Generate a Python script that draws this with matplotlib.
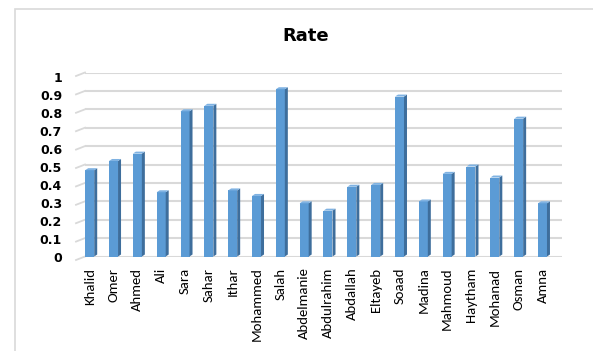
import matplotlib
matplotlib.use("Agg")
import matplotlib.pyplot as plt
import matplotlib.transforms as mtrans
from matplotlib.patches import Polygon, Rectangle
import numpy as np

names = ["Khalid", "Omer", "Ahmed", "Ali", "Sara", "Sahar", "Ithar", "Mohammed",
         "Salah", "Abdelmanie", "Abdulrahim", "Abdallah", "Eltayeb", "Soaad",
         "Madina", "Mahmoud", "Haytham", "Mohanad", "Osman", "Amna"]
rates = [0.48, 0.53, 0.57, 0.36, 0.80, 0.83, 0.37, 0.34, 0.92, 0.30,
         0.26, 0.39, 0.40, 0.88, 0.31, 0.46, 0.50, 0.44, 0.76, 0.30]
yticks = [0, 0.1, 0.2, 0.3, 0.4, 0.5, 0.6, 0.7, 0.8, 0.9, 1]
ytick_labels = ["0", "0.1", "0.2", "0.3", "0.4", "0.5", "0.6", "0.7", "0.8", "0.9", "1"]
title = "Rate"

W, H = 593, 351
fig = plt.figure(figsize=(W / 100, H / 100), dpi=100)
fig.patch.set_facecolor("white")

# chart border (light gray), open at right/bottom like the crop
fig.add_artist(Rectangle((15 / W, -0.1), 1.2, 1 - 8.5 / H + 0.1,
                         transform=fig.transFigure, fill=False,
                         edgecolor="#D9D9D9", linewidth=1.2))

left_px, right_px = 85, 562
top_px, bottom_px = 72.5, 256.5
ax = fig.add_axes([left_px / W, 1 - bottom_px / H,
                   (right_px - left_px) / W, (bottom_px - top_px) / H])
ax.set_facecolor("none")
for s in ax.spines.values():
    s.set_visible(False)

x = np.arange(len(names))
x0, dxp = 91.2, 23.83  # first bar centre and spacing in pixels
xmin = (left_px - x0) / dxp
xmax = (right_px - x0) / dxp
ax.set_xlim(xmin, xmax)
ax.set_ylim(0, 1)

px_x = 1 / dxp                      # one pixel in x data units
px_y = 1 / (bottom_px - top_px)     # one pixel in y data units

# gridlines with a short diagonal floor edge at the left
for v in yticks:
    ax.plot([xmin, xmax], [v, v], color="#D9D9D9", lw=1.5, zorder=1,
            solid_capstyle="butt")
    ax.plot([xmin - 9 * px_x, xmin], [v - 3.5 * px_y, v], color="#D9D9D9",
            lw=1.3, zorder=1, clip_on=False)

# 3D-looking bars: the top cap reaches the value
fw = 9 * px_x
dx, dy = 3 * px_x, 2 * px_y
front_c = "#5B9BD5"
side_c = "#3E6E9C"
top_c = "#7FB2E2"
fronts = [v - dy for v in rates]
ax.bar(x - 1.5 * px_x, fronts, width=fw, color=front_c, zorder=3, linewidth=0)
for xi, v in zip(x, fronts):
    xl = xi - 1.5 * px_x - fw / 2
    xr = xl + fw
    ax.add_patch(Polygon([(xr, 0), (xr + dx, dy), (xr + dx, v + dy), (xr, v)],
                         closed=True, facecolor=side_c, edgecolor="none", zorder=3))
    ax.add_patch(Polygon([(xl, v), (xr, v), (xr + dx, v + dy), (xl + dx, v + dy)],
                         closed=True, facecolor=top_c, edgecolor="none", zorder=3))

ax.set_yticks(yticks)
ax.set_yticklabels(ytick_labels, fontsize=9, fontweight="bold",
                   family="DejaVu Sans")
ax.tick_params(axis="y", length=0, pad=16.5)
for lab, v in zip(ax.get_yticklabels(), yticks):
    lab.set_va("center")
    shift = (1.5 + 4.5 * v) / 100
    lab.set_transform(lab.get_transform() +
                      mtrans.ScaledTranslation(0, -shift, fig.dpi_scale_trans))

ax.set_xticks(x - 1.5 * px_x)
ax.set_xticklabels(names, rotation=90, fontsize=10.6,
                   family=["Carlito", "DejaVu Sans"])
ax.tick_params(axis="x", length=0, pad=8)

fig.text(306 / W, 1 - 36 / H, title, ha="center", va="center",
         fontsize=13, fontweight="bold", family="DejaVu Sans")

fig.savefig("out.png", dpi=100, facecolor="white")
